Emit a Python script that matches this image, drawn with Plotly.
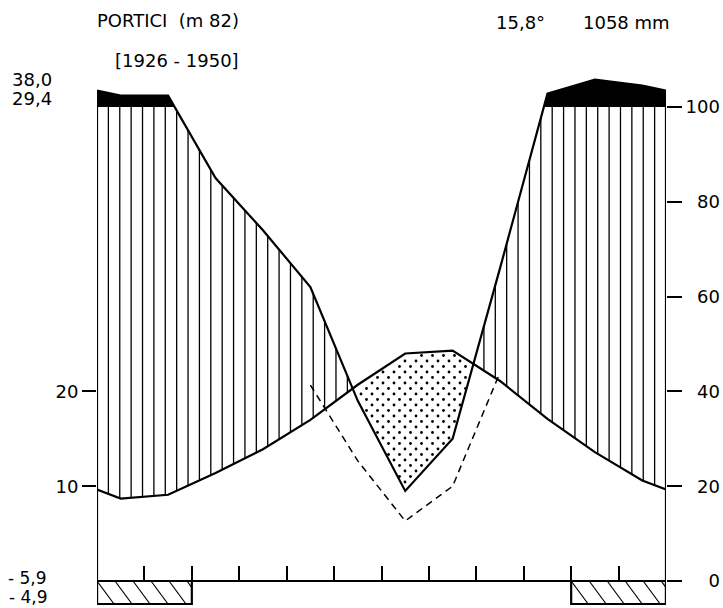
import numpy as np
import plotly.graph_objects as go

# ---------------- data ----------------
months = ["G", "F", "M", "A", "M", "G", "L", "A", "S", "O", "N", "D"]
temperature = [8.7, 9.1, 11.4, 13.9, 17.0, 20.7, 24.0, 24.3, 21.1, 17.1, 13.6, 10.6]   # °C
precipitation = [124, 124, 85, 74, 62, 38, 19, 30, 66, 128, 158, 145]                 # mm
frost_months = [1, 2, 11, 12]
dashed_months = [5, 6, 7, 8, 9]
temp_ticks = [10, 20]
precip_ticks = [0, 20, 40, 60, 80, 100]
title_text = "PORTICI  (m 82)"
period_text = "[1926 - 1950]"
mean_temp_text = "15,8°"
annual_prec_text = "1058 mm"
top_left_labels = ["38,0", "29,4"]
bottom_left_labels = ["- 5,9", "- 4,9"]

# ---------------- geometry / style ----------------
W, H = 723, 608
ML, MR = 97, 57
PX_PER_UNIT = 9.48            # pixels per °C (= 2 mm)
Y0_PX = 581                   # pixel row of 0
YMAX = Y0_PX / PX_PER_UNIT
YMIN = YMAX - H / PX_PER_UNIT
PX_PER_MONTH = (W - ML - MR) / 12.0
BOX_DEPTH = 23 / PX_PER_UNIT
FONT = "DejaVu Sans"
LW = 2.2


def pdisp(p):
    p = np.asarray(p, float)
    return np.where(p <= 100, p / 2.0, 50 + (p - 100) / 20.0)


T = np.array(temperature, float)
Pd = pdisp(precipitation)
xm = np.arange(12) + 0.5
X = np.concatenate([[0], xm, [12]])
T_ext = np.concatenate([[(T[-1] + T[0]) / 2], T, [(T[-1] + T[0]) / 2]])
P_ext = np.concatenate([[(Pd[-1] + Pd[0]) / 2], Pd, [(Pd[-1] + Pd[0]) / 2]])
CAP = np.full_like(X, 50.0)


def refine(xn, pairs):
    pts = list(xn)
    for f, g in pairs:
        d = f - g
        for i in range(len(xn) - 1):
            if d[i] * d[i + 1] < 0:
                t = d[i] / (d[i] - d[i + 1])
                pts.append(xn[i] + t * (xn[i + 1] - xn[i]))
    return np.unique(pts)


xs = refine(X, [(P_ext, T_ext), (P_ext, CAP)])
Tf = np.interp(xs, X, T_ext)
Pf = np.interp(xs, X, P_ext)

fig = go.Figure()

# black area (precipitation > 100 mm)
fig.add_trace(go.Scatter(x=xs, y=np.full_like(xs, 50.0), mode="lines",
                         line=dict(width=0, color="rgba(0,0,0,0)"), hoverinfo="skip"))
fig.add_trace(go.Scatter(x=xs, y=np.maximum(Pf, 50.0), mode="lines", fill="tonexty",
                         fillcolor="black", line=dict(width=0, color="rgba(0,0,0,0)"),
                         hoverinfo="skip"))

# vertical hatching (humid period)
hx, hy = [], []
for xv in np.linspace(0, 12, 51)[1:-1]:
    t = np.interp(xv, X, T_ext)
    p = min(np.interp(xv, X, P_ext), 50.0)
    if p > t:
        hx += [xv, xv, None]
        hy += [t, p, None]
fig.add_trace(go.Scatter(x=hx, y=hy, mode="lines", line=dict(width=1.3, color="black"),
                         hoverinfo="skip"))

# stippling (arid period)
dx = 11 / PX_PER_MONTH
dy = 5.5 / PX_PER_UNIT
mg = 2.5 / PX_PER_UNIT
sx, sy = [], []
for k in range(int(40 / dy)):
    yv = k * dy
    off = (k % 2) * dx / 2
    for xv in np.arange(off, 12, dx):
        t = np.interp(xv, X, T_ext)
        p = np.interp(xv, X, P_ext)
        if p + mg < yv < t - mg:
            sx.append(xv)
            sy.append(yv)
fig.add_trace(go.Scatter(x=sx, y=sy, mode="markers",
                         marker=dict(size=2.8, color="black", line=dict(width=0)),
                         hoverinfo="skip"))

# frost boxes
groups = []
for m in sorted(frost_months):
    if groups and groups[-1][1] == m - 1:
        groups[-1][1] = m
    else:
        groups.append([m, m])
bx, by = [], []
hxs, hys = [], []
step = 18 / PX_PER_MONTH
run = 17 / PX_PER_MONTH
for a, b in groups:
    x0, x1 = a - 1, b
    bx += [x0, x0, x1, x1, None]
    by += [0, -BOX_DEPTH, -BOX_DEPTH, 0, None]
    for s in np.arange(x0, x1, step):
        tmin, tmax = 0.0, min(1.0, (x1 - s) / run)
        hxs += [s + run * tmin, s + run * tmax, None]
        hys += [-BOX_DEPTH * tmin, -BOX_DEPTH * tmax, None]
fig.add_trace(go.Scatter(x=hxs, y=hys, mode="lines", line=dict(width=1.2, color="black"),
                         hoverinfo="skip"))
fig.add_trace(go.Scatter(x=bx, y=by, mode="lines", line=dict(width=LW, color="black"),
                         hoverinfo="skip"))

# baseline and vertical frame lines
fig.add_trace(go.Scatter(x=[-12 / PX_PER_MONTH, 12 + 16 / PX_PER_MONTH], y=[0, 0], mode="lines",
                         line=dict(width=LW, color="black"), hoverinfo="skip"))
fig.add_trace(go.Scatter(x=[0, 0, None, 12, 12], y=[-BOX_DEPTH, P_ext[0], None, -BOX_DEPTH, P_ext[-1]],
                         mode="lines", line=dict(width=LW, color="black"), hoverinfo="skip"))

# dashed precipitation curve (1 °C = 3 mm)
dm = [m - 0.5 for m in dashed_months]
dp = [precipitation[m - 1] / 3.0 for m in dashed_months]
fig.add_trace(go.Scatter(x=dm, y=dp, mode="lines",
                         line=dict(width=1.5, color="black", dash="7px,5px"), hoverinfo="skip"))

# main curves
fig.add_trace(go.Scatter(x=X, y=P_ext, mode="lines", line=dict(width=LW, color="black"),
                         hoverinfo="skip"))
fig.add_trace(go.Scatter(x=X, y=T_ext, mode="lines", line=dict(width=LW, color="black"),
                         hoverinfo="skip"))
# secondary-axis carrier (invisible)
fig.add_trace(go.Scatter(x=[None], y=[None], yaxis="y2", hoverinfo="skip"))


def px_x(px):
    return (px - ML) / (W - ML - MR)


def px_y(py):
    return 1 - py / H


annots = [
    (title_text, 95, 20, 18), (period_text, 113, 60, 18),
    (mean_temp_text, 494, 22, 18), (annual_prec_text, 581, 22, 18),
    (top_left_labels[0], 10, 80, 18), (top_left_labels[1], 10, 99, 18),
    (bottom_left_labels[0], 6, 578, 17), (bottom_left_labels[1], 7, 597, 17),
]
annotations = [dict(text=t, x=px_x(x), y=px_y(y), xref="paper", yref="paper",
                    xanchor="left", yanchor="middle", showarrow=False,
                    font=dict(family=FONT, size=fs, color="black")) for t, x, y, fs in annots]

ticktext2 = ["\u2007" * (3 - len(str(v))) + str(v) for v in precip_ticks]

fig.update_layout(
    width=W, height=H,
    margin=dict(l=ML, r=MR, t=0, b=0),
    paper_bgcolor="white", plot_bgcolor="rgba(0,0,0,0)",
    showlegend=False,
    annotations=annotations,
    xaxis=dict(range=[0, 12], tickvals=list(range(1, 12)), ticks="inside", ticklen=15,
               tickwidth=1.8, tickcolor="black", showticklabels=False, showgrid=False,
               zeroline=False, showline=False, anchor="free", position=(H - Y0_PX) / H),
    yaxis=dict(range=[YMIN, YMAX], tickvals=temp_ticks, ticktext=[str(v) for v in temp_ticks],
               ticks="outside", ticklen=14, tickwidth=1.5, tickcolor="black",
               showgrid=False, zeroline=False, showline=False,
               tickfont=dict(family=FONT, size=18, color="black")),
    yaxis2=dict(range=[2 * YMIN, 2 * YMAX], overlaying="y", side="right", anchor="x",
                tickvals=precip_ticks, ticktext=ticktext2,
                ticks="outside", ticklen=15, tickwidth=1.8, tickcolor="black",
                showgrid=False, zeroline=False, showline=False,
                tickfont=dict(family=FONT, size=18, color="black")),
)

fig.write_html("out.html", config={"displayModeBar": False},
               post_script="document.body.style.margin='0';document.body.style.overflow='hidden';")
